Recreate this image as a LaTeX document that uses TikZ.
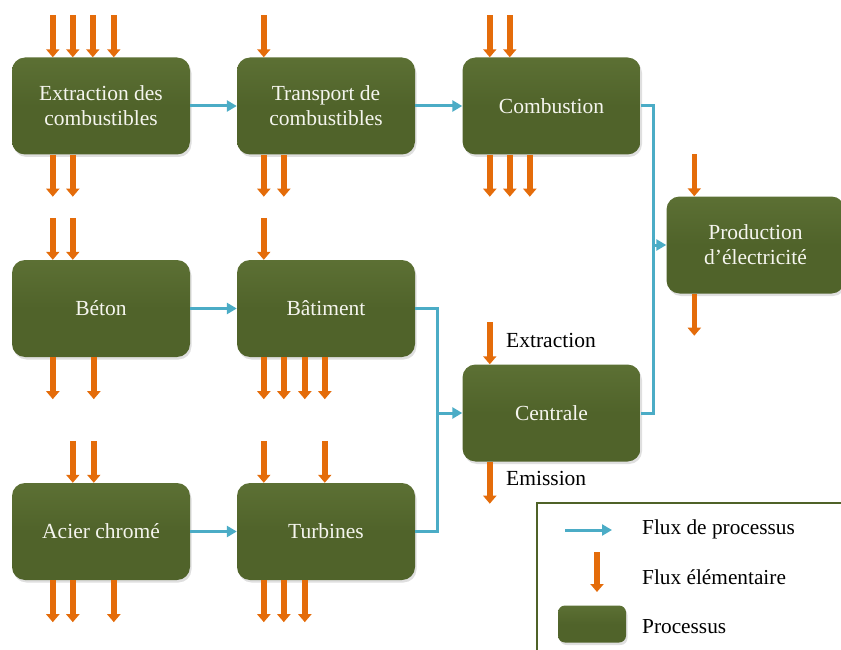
\documentclass[tikz,border=0pt]{standalone}
\usepackage{fontspec}
\setmainfont{Liberation Serif}
\usetikzlibrary{arrows.meta,shadows}
\definecolor{boxgreen}{RGB}{80,99,42}
\definecolor{boxgreenL}{RGB}{92,112,52}
\definecolor{legendgreen}{RGB}{79,98,40}
\definecolor{elemorange}{RGB}{228,108,10}
\definecolor{flowblue}{RGB}{75,172,198}
\definecolor{boxtext}{RGB}{245,245,238}
\tikzset{
  procbox/.style={rectangle, rounded corners=13pt, minimum width=178pt, minimum height=97pt,
    inner sep=0pt, top color=boxgreenL, bottom color=boxgreen, middle color=boxgreen,
    text=boxtext, align=center,
    font=\fontsize{21.5}{25}\selectfont,
    drop shadow={opacity=0.25, shadow xshift=1.5pt, shadow yshift=-2.5pt}},
  elem/.style={draw=elemorange, line width=5.5pt, -{Triangle[width=13pt,length=8pt]}},
  flow/.style={draw=flowblue, line width=3pt, -{Triangle[width=11pt,length=10pt]}},
  flowline/.style={draw=flowblue, line width=3pt},
  legtext/.style={anchor=west, inner sep=0pt, font=\fontsize{21.3}{24}\selectfont},
  lbl/.style={anchor=west, inner sep=0pt, font=\fontsize{21.5}{24}\selectfont}
}
\begin{document}
\begin{tikzpicture}[x=1pt,y=-1pt]
\useasboundingbox (0,0) rectangle (841,650);
\clip (0,0) rectangle (841,650);
% process boxes
\node[procbox] (ext) at (101,106) {Extraction des\\combustibles};
\node[procbox] (tra) at (326,106) {Transport de\\combustibles};
\node[procbox] (com) at (551.5,106) {Combustion};
\node[procbox] (prod) at (755.5,245) {Production\\d’électricité};
\node[procbox] (bet) at (101,308.5) {Béton};
\node[procbox] (bat) at (326,308.5) {Bâtiment};
\node[procbox] (cen) at (551.5,413) {Centrale};
\node[procbox] (aci) at (101,531.5) {Acier chromé};
\node[procbox] (tur) at (326,531.5) {Turbines};
% process flows
\draw[flow] (ext.east) -- (tra.west);
\draw[flow] (tra.east) -- (com.west);
\draw[flow] (bet.east) -- (bat.west);
\draw[flow] (aci.east) -- (tur.west);
\coordinate (jl) at (437,413);
\coordinate (jr) at (653,245);
\draw[flowline] (bat.east) -| (jl);
\draw[flowline] (tur.east) -| (jl);
\draw[flow] (jl) -- (cen.west);
\draw[flowline] (com.east) -| (jr);
\draw[flowline] (cen.east) -| (jr);
\draw[flow] (jr) -- (prod.west);
% elementary flows
\foreach \b/\tops/\bots in {ext/{41,61,81,102}/{41,61}, tra/{27}/{27,47}, com/{27.5,47.5}/{27.5,47.5,67.5},
  prod/{28}/{28}, bet/{41,61}/{41,82}, bat/{27}/{27,47,68,88}, cen/{27.5}/{27.5},
  aci/{61,82}/{41,61,102}, tur/{27,88}/{27,47,68}} {
  \foreach \d in \tops {
    \draw[elem] ([xshift=\d pt,yshift=42pt]\b.north west) -- ([xshift=\d pt]\b.north west);
  }
  \foreach \d in \bots {
    \draw[elem] ([xshift=\d pt]\b.south west) -- ([xshift=\d pt,yshift=-42pt]\b.south west);
  }
}
\node[lbl] (lext) at (506,340) {Extraction};
\node[lbl] (lemi) at (506,478) {Emission};
% legend
\draw[legendgreen, line width=2pt] (537,503) rectangle (900,720);
\coordinate (lfa) at (565,530);
\coordinate (lfb) at (612,530);
\draw[flow] (lfa) -- (lfb);
\coordinate (lea) at (597,552);
\coordinate (leb) at (597,592);
\draw[elem] (lea) -- (leb);
\node[procbox, minimum width=68pt, minimum height=37pt, rounded corners=7pt] (lbox) at (592,624) {};
\node[legtext] (t1) at (642,529) {Flux de processus};
\node[legtext] (t2) at (642,577) {Flux élémentaire};
\node[legtext] (t3) at (642,627) {Processus};
\end{tikzpicture}
\end{document}
